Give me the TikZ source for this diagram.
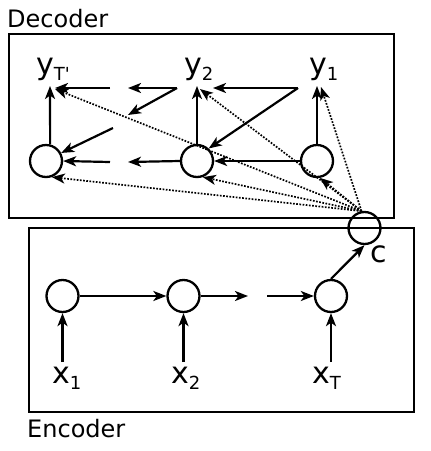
\documentclass[tikz,border=0pt]{standalone}
\usepackage{fontspec}
\setmainfont{DejaVu Sans}
\usetikzlibrary{arrows.meta}
\newcommand{\sublab}[2]{{\fontsize{30}{30}\selectfont #1\raisebox{-6pt}{\fontsize{18}{18}\selectfont #2}}}
\begin{document}
\begin{tikzpicture}[x=1pt,y=-1pt,
  cell/.style={circle,draw,line width=2.3pt,minimum size=32pt,inner sep=0pt},
  box/.style={draw,line width=2.3pt},
  arr/.style={-{Stealth[length=13pt,width=10pt,inset=3.5pt]},line width=2.2pt},
  att/.style={-{Stealth[length=13pt,width=10pt,inset=3.5pt]},line width=1.7pt,dash pattern=on 1.7pt off 1.5pt},
  lab/.style={anchor=base west,inner sep=0pt}]
\useasboundingbox (0,0) rectangle (431,451);
% boxes
\draw[box] (9,34) rectangle (394,218);
\draw[box] (29,228) rectangle (414,412);
% texts
\node[lab] (dec) at (7,27) {\fontsize{24}{24}\selectfont Decoder};
\node[lab] (enc) at (27,437) {\fontsize{24}{24}\selectfont Encoder};
% cells
\node[cell] (d1) at (317,161) {};
\node[cell] (d2) at (197,161) {};
\node[cell] (d3) at (46,161) {};
\node[cell] (e1) at (62.5,296) {};
\node[cell] (e2) at (183.5,296) {};
\node[cell] (e3) at (331,296) {};
\node[cell] (c) at (364.5,228) {};
% labels
\node[lab] (y1) at (309,74) {\sublab{y}{1}};
\node[lab] (y2) at (184,74) {\sublab{y}{2}};
\node[lab] (yT) at (36,74) {\sublab{y}{T\textquotesingle}};
\node[lab] (x1) at (52,383) {\sublab{x}{1}};
\node[lab] (x2) at (171,383) {\sublab{x}{2}};
\node[lab] (xT) at (312,383) {\sublab{x}{T}};
\node[lab] (clab) at (370,262) {\fontsize{30}{30}\selectfont c};
% coordinates
\coordinate (ty3) at (50,86);
\coordinate (ty2) at (197,86);
\coordinate (ty1) at (317,86);
\coordinate (hT) at (55,88);
\coordinate (h2) at (213,88);
\coordinate (aT) at (55,89);
\coordinate (a2) at (200,89);
\coordinate (a1) at (321,87);
\coordinate (gA) at (110,88);
\coordinate (gB) at (177,88);
\coordinate (gC) at (128,88);
\coordinate (gD) at (128,115);
\coordinate (gE) at (113,128);
\coordinate (gF) at (110,162);
\coordinate (gG) at (128,162);
\coordinate (gH) at (298,88);
\coordinate (gI) at (248,296);
\coordinate (gJ) at (267,296);
\coordinate (sx1) at (62.5,362);
\coordinate (sx2) at (183.5,362);
\coordinate (sxT) at (331,362);
% decoder arrows
\draw[arr] (d3.76) -- (ty3);
\draw[arr] (d2.north) -- (ty2);
\draw[arr] (d1.north) -- (ty1);
\draw[arr] (gA) -- (hT);
\draw[arr] (gB) -- (gC);
\draw[arr] (gB) -- (gD);
\draw[arr] (gE) -- (d3.28);
\draw[arr] (gF) -- (d3.east);
\draw[arr] (d2.west) -- (gG);
\draw[arr] (gH) -- (h2);
\draw[arr] (gH) -- (d2.47);
\draw[arr] (d1.west) -- (d2.east);
% attention (dotted)
\draw[att] (c.100) -- (aT);
\draw[att] (c.100) -- (d3.-70);
\draw[att] (c.100) -- (a2);
\draw[att] (c.100) -- (d2.-70);
\draw[att] (c.100) -- (a1);
\draw[att] (c.100) -- (d1.-80);
% encoder arrows
\draw[arr,line width=2.7pt] (e1.east) -- (e2.west);
\draw[arr] (e2.east) -- (gI);
\draw[arr] (gJ) -- (e3.west);
\draw[arr] (e3.north) -- (c.south);
\draw[arr] (sx1) -- (e1.south);
\draw[arr] (sx2) -- (e2.south);
\draw[arr] (sxT) -- (e3.south);
\end{tikzpicture}
\end{document}
